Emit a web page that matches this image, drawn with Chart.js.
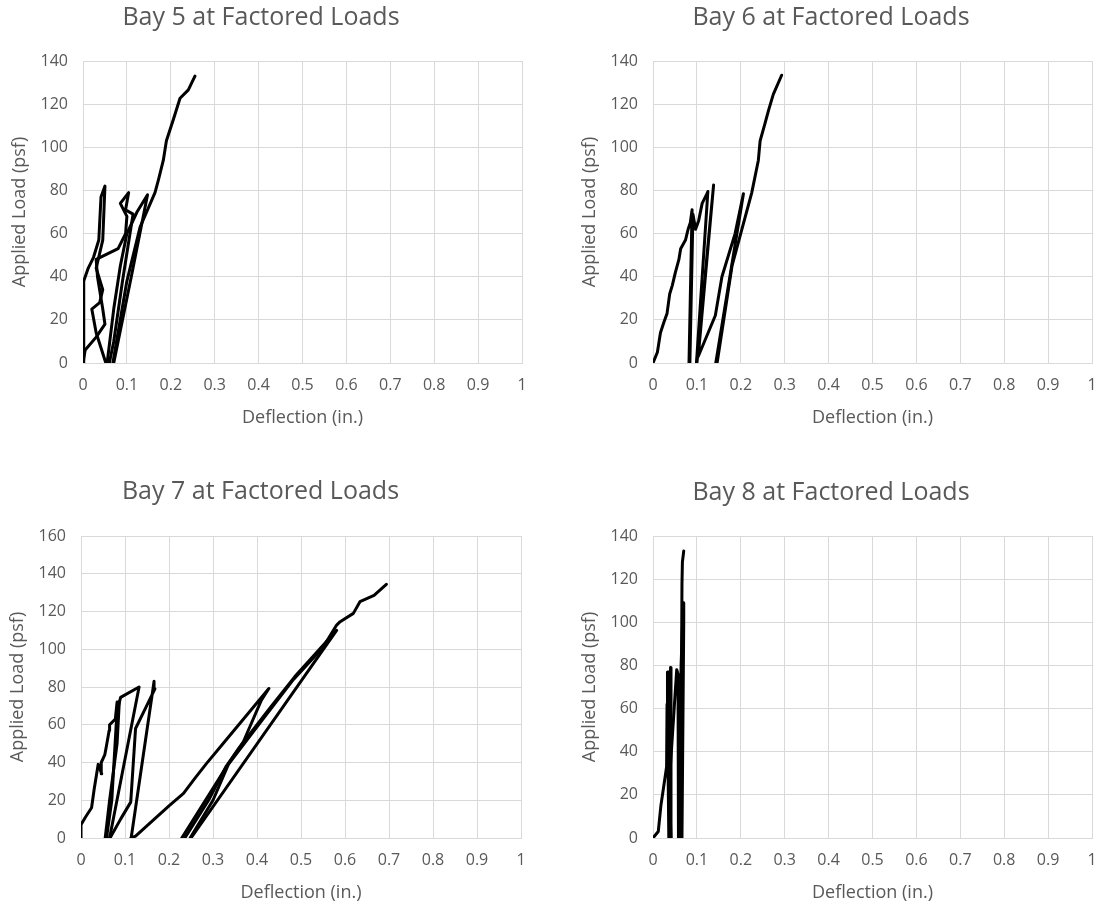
<!DOCTYPE html>
<html>
<head>
<meta charset="utf-8">
<title>Bay Load Tests</title>
<script src="https://cdn.jsdelivr.net/npm/chart.js@4.4.1/dist/chart.umd.min.js"></script>
<style>
  body { margin: 0; background: #fff; width: 1099px; height: 907px; position: relative; overflow: hidden; }
  canvas { position: absolute; }
</style>
</head>
<body>
<canvas id="bay5" width="550" height="445" style="left:0;top:0"></canvas>
<canvas id="bay6" width="529" height="445" style="left:570px;top:0"></canvas>
<canvas id="bay7" width="550" height="452" style="left:0;top:455px"></canvas>
<canvas id="bay8" width="529" height="452" style="left:570px;top:455px"></canvas>
<script>
// load cycles as [deflection (in.), applied load (psf)]
const bay5Cycle1 = [[0,0],[0.001,6],[0.002,18],[0.002,38],[0.012,44],[0.024,49],[0.036,57],[0.041,77],[0.05,82],[0.045,57],[0.03,44],[0.045,34],[0.038,28],[0.02,25],[0.03,14],[0.052,0]];
const bay5Cycle2 = [[0,0],[0.005,6],[0.03,12],[0.05,18],[0.045,25],[0.033,40],[0.03,48],[0.08,53],[0.097,60],[0.1,68],[0.085,74],[0.104,79],[0.097,71],[0.114,69],[0.09,38],[0.07,10],[0.06,0]];
const bay5Cycle3 = [[0.055,0],[0.07,25],[0.085,45],[0.1,60],[0.123,70],[0.147,78],[0.11,40],[0.07,0]];
const bay5Cycle4 = [[0.068,0],[0.1,38],[0.13,63],[0.164,79],[0.172,85],[0.183,94],[0.19,103],[0.206,113],[0.221,122.7],[0.24,126.6],[0.255,133]];

const bay6Cycle1 = [[0,0],[0.01,5],[0.017,14],[0.025,19],[0.032,23],[0.038,32],[0.044,36],[0.051,42],[0.059,48],[0.063,53],[0.074,57],[0.08,62],[0.085,65],[0.089,71],[0.091,71],[0.082,0]];
const bay6Cycle2 = [[0.084,0],[0.091,69],[0.097,62],[0.104,66],[0.112,74],[0.123,78.5],[0.125,79.5],[0.099,0]];
const bay6Cycle3 = [[0.1,0],[0.138,82.5],[0.103,3],[0.142,22],[0.157,40],[0.187,60],[0.206,78.5],[0.143,0]];
const bay6Cycle4 = [[0.146,0],[0.18,45],[0.225,79],[0.24,94],[0.244,103],[0.255,111],[0.263,117],[0.274,124.5],[0.293,133.4]];

const bay7Cycle1 = [[0,0],[0,7],[0.01,11],[0.024,16],[0.03,26],[0.039,39],[0.047,34],[0.046,40],[0.054,44],[0.058,49],[0.064,57],[0.065,60],[0.078,63],[0.082,72],[0.087,72],[0.082,50],[0.065,20],[0.055,0]];
const bay7Cycle2 = [[0.058,0],[0.07,20],[0.08,60],[0.085,70],[0.09,74.5],[0.132,80],[0.065,0]];
const bay7Cycle3 = [[0.066,0],[0.09,10],[0.113,19],[0.124,58],[0.145,68],[0.168,79],[0.166,83],[0.163,78],[0.114,0]];
const bay7Cycle4 = [[0.114,0],[0.124,1],[0.2,17],[0.233,23.6],[0.26,32],[0.285,39.4],[0.324,50.3],[0.427,79.2],[0.41,73],[0.369,51],[0.331,37.8],[0.229,0]];
const bay7Cycle5 = [[0.236,0],[0.29,20],[0.33,38],[0.36,48],[0.43,69],[0.486,85.5],[0.581,110],[0.25,0]];
const bay7Cycle6 = [[0.248,0],[0.3,20],[0.335,39],[0.41,62],[0.483,84],[0.55,101],[0.581,112.8],[0.589,114.6],[0.619,119],[0.634,125.2],[0.666,128.5],[0.694,134.4]];

const bay8Cycle1 = [[0,0],[0.012,3],[0.018,15],[0.031,33],[0.032,62],[0.033,77],[0.036,77],[0.034,40],[0.036,0]];
const bay8Cycle2 = [[0.037,0],[0.038,55],[0.04,79],[0.041,78],[0.041,0]];
const bay8Cycle3 = [[0.041,0],[0.037,25],[0.045,50],[0.054,78],[0.057,76],[0.058,0]];
const bay8Cycle4 = [[0.059,0],[0.064,80],[0.069,109],[0.07,100],[0.066,0]];
const bay8Cycle5 = [[0.063,0],[0.066,118],[0.067,128],[0.07,133]];

const bayTitles = ['Bay 5 at Factored Loads', 'Bay 6 at Factored Loads', 'Bay 7 at Factored Loads', 'Bay 8 at Factored Loads'];
const loadAxisMax = [140, 140, 160, 140];
const loadStep = 20;
const deflectionMax = 1;
const deflectionStep = 0.1;
const xAxisLabel = 'Deflection (in.)';
const yAxisLabel = 'Applied Load (psf)';

const textGrey = '#595959';
const gridGrey = '#d9d9d9';
const fontFamily = "'Open Sans', sans-serif";
const titleSize = 25, axisTitleSize = 18, tickSize = 16;

Chart.defaults.font.family = fontFamily;

// plot box per canvas: w/h canvas, left/top/right/bottom plot area, centres of the texts
const boxes = [
  { w: 550, h: 445, left: 83, top: 61, right: 522, bottom: 363, titleY: 18, yTitleX: 20, xTitleY: 418 },
  { w: 529, h: 445, left: 83, top: 61, right: 522, bottom: 363, titleY: 18, yTitleX: 20, xTitleY: 418 },
  { w: 550, h: 452, left: 81, top: 81, right: 521, bottom: 383, titleY: 37, yTitleX: 18, xTitleY: 438 },
  { w: 529, h: 452, left: 83, top: 81, right: 522, bottom: 383, titleY: 38, yTitleX: 20, xTitleY: 438 }
];

function buildChart(canvasId, cycles, idx) {
  const box = boxes[idx];
  const titleLh = titleSize * 1.2;
  const axisLh = axisTitleSize * 1.2;
  const tickLh = tickSize * 1.2;

  return new Chart(document.getElementById(canvasId), {
    type: 'scatter',
    data: {
      datasets: cycles.map(pts => ({
        data: pts.map(p => ({ x: p[0], y: p[1] })),
        showLine: true,
        borderColor: '#000',
        borderWidth: 3,
        borderJoinStyle: 'round',
        borderCapStyle: 'round',
        pointRadius: 0,
        pointHoverRadius: 0,
        tension: 0
      }))
    },
    options: {
      responsive: false,
      animation: false,
      events: [],
      layout: { padding: { left: 0, top: 0, right: box.w - box.right, bottom: 0 } },
      plugins: {
        legend: { display: false },
        tooltip: { enabled: false },
        title: {
          display: true,
          text: bayTitles[idx],
          color: textGrey,
          font: { size: titleSize, weight: 'normal' },
          padding: { top: box.titleY - titleLh / 2, bottom: box.top - box.titleY - titleLh / 2 }
        }
      },
      scales: {
        x: {
          type: 'linear',
          min: 0,
          max: deflectionMax,
          ticks: {
            stepSize: deflectionStep,
            color: textGrey,
            font: { size: tickSize },
            padding: 22 - tickLh / 2,
            maxRotation: 0,
            callback: v => String(Number(v.toFixed(1)))
          },
          grid: { color: gridGrey, lineWidth: 1, drawTicks: false },
          border: { color: gridGrey },
          title: {
            display: true,
            text: xAxisLabel,
            color: textGrey,
            font: { size: axisTitleSize },
            padding: { top: 0, bottom: box.h - box.xTitleY - axisLh / 2 }
          },
          afterFit: s => {
            s.height = box.h - box.bottom;
            // end labels fit inside the canvas margin already
            s.paddingLeft = 0;
            s.paddingRight = 0;
          }
        },
        y: {
          type: 'linear',
          min: 0,
          max: loadAxisMax[idx],
          ticks: {
            stepSize: loadStep,
            color: textGrey,
            font: { size: tickSize },
            padding: 15
          },
          grid: { color: gridGrey, lineWidth: 1, drawTicks: false },
          border: { color: gridGrey },
          title: {
            display: true,
            text: yAxisLabel,
            color: textGrey,
            font: { size: axisTitleSize },
            padding: { top: box.yTitleX - axisLh / 2, bottom: 0 }
          },
          afterFit: s => { s.width = box.left; }
        }
      }
    }
  });
}

buildChart('bay5', [bay5Cycle1, bay5Cycle2, bay5Cycle3, bay5Cycle4], 0);
buildChart('bay6', [bay6Cycle1, bay6Cycle2, bay6Cycle3, bay6Cycle4], 1);
buildChart('bay7', [bay7Cycle1, bay7Cycle2, bay7Cycle3, bay7Cycle4, bay7Cycle5, bay7Cycle6], 2);
buildChart('bay8', [bay8Cycle1, bay8Cycle2, bay8Cycle3, bay8Cycle4, bay8Cycle5], 3);
</script>
</body>
</html>
